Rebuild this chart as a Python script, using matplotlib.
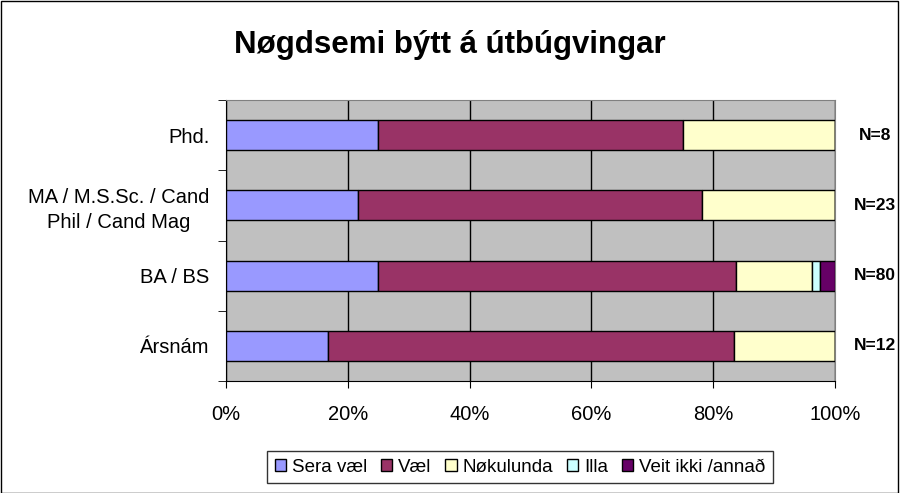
import matplotlib
matplotlib.use("Agg")
import matplotlib.pyplot as plt
from matplotlib.patches import Patch, Rectangle
import numpy as np

plt.rcParams['font.family'] = ['Liberation Sans', 'DejaVu Sans']

categories = ["Ársnám", "BA / BS", "MA / M.S.Sc. / Cand\nPhil / Cand Mag", "Phd."]
n_labels = ["N=12", "N=80", "N=23", "N=8"]
series_names = ["Sera væl", "Væl", "Nøkulunda", "Illa", "Veit ikki /annað"]
sera_vael = [16.7, 25.0, 21.7, 25.0]
vael = [66.7, 58.75, 56.5, 50.0]
nokulunda = [16.6, 12.5, 21.8, 25.0]
illa = [0.0, 1.25, 0.0, 0.0]
veit_ikki = [0.0, 2.5, 0.0, 0.0]
colors = ["#9999FF", "#993366", "#FFFFCC", "#CCFFFF", "#660066"]
xticks = [0, 20, 40, 60, 80, 100]
xticklabels = ["0%", "20%", "40%", "60%", "80%", "100%"]

fig = plt.figure(figsize=(9, 4.93), dpi=100)
fig.patch.set_facecolor("white")
fig.add_artist(Rectangle((0.001, 0.001), 0.997, 0.997, transform=fig.transFigure,
                         fill=False, edgecolor="black", linewidth=1))

ax = fig.add_axes([226/900, 1-381/493, (835-226)/900, (381-100)/493])
ax.set_facecolor("#C0C0C0")

y = np.arange(len(categories))
left = np.zeros(len(categories))
for vals, name, c in zip([sera_vael, vael, nokulunda, illa, veit_ikki], series_names, colors):
    vals = np.array(vals)
    ax.barh(y, vals, left=left, height=0.43, color=c, edgecolor="black", linewidth=1, zorder=3)
    left += vals

ax.set_xlim(0, 100)
ax.set_ylim(-0.5, 3.5)
ax.set_xticks(xticks)
ax.set_xticklabels(xticklabels, fontsize=14.5)
ax.xaxis.grid(True, color="black", linewidth=1, zorder=1)
ax.set_axisbelow(True)
ax.tick_params(axis="x", length=5, direction="out", pad=12)

ax.set_yticks(y)
ax.set_yticklabels(categories, fontsize=14.5, ha="right", multialignment="center", linespacing=1.4)
ax.tick_params(axis="y", which="major", length=0, pad=12)
ax.set_yticks(np.arange(-0.5, 4, 1), minor=True)
ax.tick_params(axis="y", which="minor", length=6, direction="out")

for s in ["top", "right"]:
    ax.spines[s].set_color("#808080")
ax.spines["left"].set_color("black")
ax.spines["bottom"].set_color("black")

for yi, lab in zip(y, n_labels):
    ax.text(1.0657, yi, lab, transform=ax.get_yaxis_transform(), ha="center", va="center",
            fontsize=12.5, fontweight="bold")

fig.text(0.5, 1-45/493, "Nøgdsemi býtt á útbúgvingar", ha="center", va="center",
         fontsize=22.5, fontweight="bold")

handles = [Patch(facecolor=c, edgecolor="black", label=n) for c, n in zip(colors, series_names)]
leg = fig.legend(handles=handles, loc="center", bbox_to_anchor=(520/900, 1-467/493), ncol=5,
                 fontsize=13.5, frameon=True, fancybox=False, handlelength=0.6, handleheight=0.6,
                 handletextpad=0.3, columnspacing=0.75, borderpad=0.4, borderaxespad=0)
leg.get_frame().set_edgecolor("black")
leg.get_frame().set_linewidth(1)

fig.savefig("out.png", dpi=100)
